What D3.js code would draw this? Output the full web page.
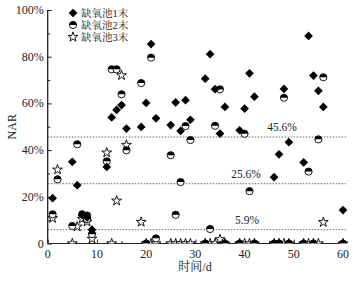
<!DOCTYPE html>
<html><head><meta charset="utf-8">
<script src="https://cdn.jsdelivr.net/npm/d3@7"></script>
<style>body{margin:0;background:#fff}svg{display:block}text{font-family:"Liberation Serif","Times New Roman","Noto Serif CJK SC","Noto Sans CJK SC",serif;fill:#222}</style>
</head><body><div id="c"></div>
<script>
const seriesNames = ["缺氧池1末","缺氧池2末","缺氧池3末"];
const days1 = [1,5,6,7,8,9,12,13,14,15,16,19,20,21,22,25,26,27,28,29,32,33,34,35,36,39,40,41,42,46,47,48,49,52,53,54,55,56,60];
const vals1 = [19.4,35,25,12.2,11.2,5.9,32.8,54,57.2,59.3,49.2,49.9,60.2,85.4,53.6,50.7,60.4,48.2,61.4,53,70.6,81.1,66.1,47.1,58.5,48.5,57.8,72.9,62.9,28.4,38.2,66.2,43.4,34.7,88.9,71.9,65.4,58.5,14.3];
const days2 = [1,2,5,6,7,8,8,9,12,13,14,15,16,19,20,21,22,25,26,27,28,29,32,33,34,35,36,39,40,41,42,46,47,48,49,52,53,54,55,56,60];
const vals2 = [12.5,27.5,7.5,42.5,12.5,12,10.5,4,35.2,74.6,74.6,63.9,39.9,68.7,0,79.6,2.2,37.8,12.3,26.3,50.3,44.3,0,6.2,50.4,66,0,0,47,22.4,0,0,0,62.4,0,0,30.8,0,44.6,71.2,0];
const days3 = [1,2,5,6,7,8,9,12,13,14,15,16,19,20,21,22,25,26,27,28,29,32,33,34,35,36,39,40,41,42,46,47,48,49,52,53,54,55,56,60];
const vals3 = [10.8,31.6,0,7.2,10.5,9.3,2,38.9,0,18.3,72,42.2,9.2,0,0,0,0,0,0,0,0,0,0,0,1.8,0,0,0,0,0,0,0,0,0,0,0,0,0,9.1,0];
const refValues = [45.6,25.6,5.9];
const refLabels = ["45.6%","25.6%","5.9%"];
const refLabelX = [282,246,247];
const xTicks = [0,10,20,30,40,50,60];
const yTicks = [0,20,40,60,80,100];

const W=353,H=281;
const svg=d3.select("#c").append("svg").attr("width",W).attr("height",H);
const x=d3.scaleLinear().domain([0,60]).range([47.7,343]);
const y=d3.scaleLinear().domain([0,100]).range([243.5,10]);

svg.append("defs").append("clipPath").attr("id","clip").append("rect")
  .attr("x",x(0)).attr("y",0).attr("width",W-x(0)).attr("height",y(0));

// reference dashed lines
const ref=svg.append("g");
refValues.forEach((v,i)=>{
  ref.append("line").attr("x1",x(0)).attr("x2",346).attr("y1",y(v)).attr("y2",y(v))
    .attr("stroke","#666").attr("stroke-width",1).attr("stroke-dasharray","1.5,1.5");
  ref.append("text").attr("x",refLabelX[i]).attr("y",y(v)-6).attr("text-anchor","middle")
    .attr("font-size",11.5).text(refLabels[i]);
});

// axes
const fmt=d=>d===0?"0":d+"%";
const gy=svg.append("g").attr("transform",`translate(${x(0)},0)`)
  .call(d3.axisRight(y).tickValues(yTicks).tickSize(4).tickFormat(""));
gy.append("g").call(d3.axisRight(y).tickValues([10,30,50,70,90]).tickSize(2.5).tickFormat(""));
gy.selectAll(".domain").attr("d",`M0,${y(100)}V${y(0)}`);
svg.append("g").selectAll("text").data(yTicks).join("text")
  .attr("x",x(0)-4).attr("y",d=>y(d)+4).attr("text-anchor","end").attr("font-size",12).text(fmt);

const gx=svg.append("g").attr("transform",`translate(0,${y(0)})`)
  .call(d3.axisTop(x).tickValues(xTicks).tickSize(4).tickFormat(""));
gx.append("g").call(d3.axisTop(x).tickValues([5,15,25,35,45,55]).tickSize(2.5).tickFormat(""));
gx.selectAll(".domain").attr("d",`M${x(0)},0H345`);
svg.append("g").selectAll("text").data(xTicks).join("text")
  .attr("x",d=>x(d)).attr("y",y(0)+14).attr("text-anchor","middle").attr("font-size",12).text(d=>d);
svg.selectAll(".domain,.tick line").attr("stroke","#222").attr("stroke-width",1);

svg.append("text").attr("x",195).attr("y",271).attr("text-anchor","middle").attr("font-size",12).text("时间/d");
svg.append("text").attr("transform",`translate(16,${y(50)}) rotate(-90)`).attr("text-anchor","middle").attr("font-size",12).text("NAR");

// markers
const diamond=d3.symbol().type(d3.symbolSquare).size(38)();
const star=d3.symbol().type(d3.symbolStar).size(30)();
const r=3.6;
const halfPath=`M${-r},0A${r},${r} 0 0 1 ${r},0Z`;
function drawDiamond(g){g.append("path").attr("d",diamond).attr("transform","rotate(45)").attr("fill","#000");}
function drawHalf(g){g.append("circle").attr("r",r).attr("fill","#fff").attr("stroke","#000").attr("stroke-width",0.9);
  g.append("path").attr("d",halfPath).attr("fill","#000");}
function drawStar(g){g.append("path").attr("d",star).attr("fill","#fff").attr("stroke","#000").attr("stroke-width",0.9);}

const plot=svg.append("g").attr("clip-path","url(#clip)");
const s3=days3.map((d,i)=>({d,v:vals3[i]}));
const s2=days2.map((d,i)=>({d,v:vals2[i]}));
const s1=days1.map((d,i)=>({d,v:vals1[i]}));
plot.append("g").selectAll("g").data(s3).join("g").attr("transform",p=>`translate(${x(p.d)},${y(p.v)})`).each(function(){drawStar(d3.select(this));});
plot.append("g").selectAll("g").data(s2).join("g").attr("transform",p=>`translate(${x(p.d)},${y(p.v)})`).each(function(){drawHalf(d3.select(this));});
plot.append("g").selectAll("g").data(s1).join("g").attr("transform",p=>`translate(${x(p.d)},${y(p.v)})`).each(function(){drawDiamond(d3.select(this));});

// legend
const lg=svg.append("g");
const drawers=[drawDiamond,drawHalf,drawStar];
seriesNames.forEach((n,i)=>{
  const g=lg.append("g").attr("transform",`translate(73,${13+i*12})`);
  drawers[i](g);
  lg.append("text").attr("x",81).attr("y",13+i*12+4).attr("font-size",10.5).text(n);
});
</script></body></html>
